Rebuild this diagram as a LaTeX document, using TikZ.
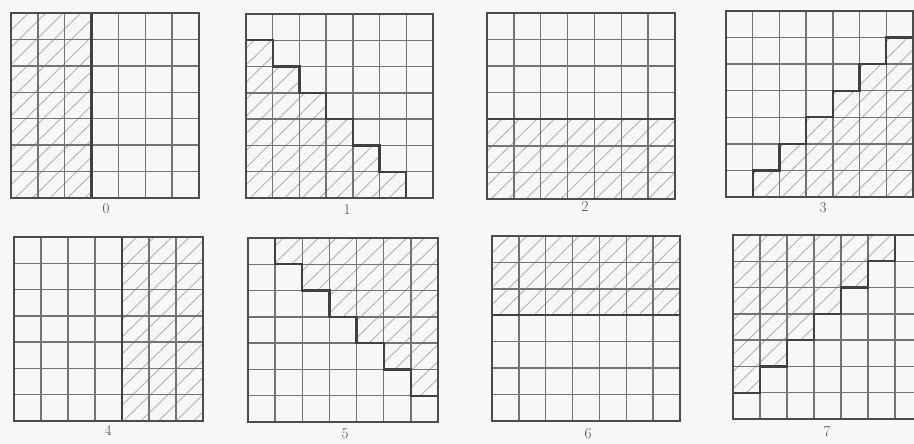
\documentclass[tikz,border=0pt]{standalone}
\begin{document}
\begin{tikzpicture}[x=1pt,y=-1pt,
  gridline/.style={line width=1.5pt, draw=black!55},
  border/.style={line width=2.2pt, draw=black!70},
  stairline/.style={line width=2.2pt, draw=black!75},
  hatchline/.style={line width=0.9pt, draw=black!30},
  lab/.style={font=\fontsize{15}{15}\selectfont, text=black!70, inner sep=0pt}]
\useasboundingbox[fill={rgb,255:red,247;green,247;blue,247}] (0,0) rectangle (914,444);
\newcommand\hatchfill{\foreach \a in {-7,-6.35,...,7.2} {\draw[hatchline] (\a,7) -- (\a+7,0);}}
\newcommand\cellgrid{\foreach \i in {1,...,6} {\draw[gridline] (\i,0) -- (\i,7); \draw[gridline] (0,\i) -- (7,\i);}}
% Panel 0
\begin{scope}[shift={(11,13)}, x=26.86pt, y=-26.43pt]
  \begin{scope}\clip (0,0) rectangle (3,7); \hatchfill \end{scope}
  \cellgrid
  \draw[stairline] (3,0) -- (3,7);
  \draw[border] (0,0) rectangle (7,7);
\end{scope}
\node[lab] (l0) at (106,209) {0};
% Panel 1
\begin{scope}[shift={(246,14)}, x=26.71pt, y=-26.29pt]
  \begin{scope}\clip (0,1) -| (1,2) -| (2,3) -| (3,4) -| (4,5) -| (5,6) -| (6,7) -- (0,7) -- cycle; \hatchfill \end{scope}
  \cellgrid
  \draw[stairline] (0,1) -| (1,2) -| (2,3) -| (3,4) -| (4,5) -| (5,6) -| (6,7);
  \draw[border] (0,0) rectangle (7,7);
\end{scope}
\node[lab] (l1) at (347,210) {1};
% Panel 2
\begin{scope}[shift={(487,13)}, x=26.86pt, y=-26.57pt]
  \begin{scope}\clip (0,4) rectangle (7,7); \hatchfill \end{scope}
  \cellgrid
  \draw[stairline] (0,4) -- (7,4);
  \draw[border] (0,0) rectangle (7,7);
\end{scope}
\node[lab] (l2) at (585,207) {2};
% Panel 3
\begin{scope}[shift={(726,11)}, x=26.71pt, y=-26.57pt]
  \begin{scope}\clip (7,1) -- (6,1) |- (5,2) |- (4,3) |- (3,4) |- (2,5) |- (1,6) |- (1,7) -- (7,7) -- cycle; \hatchfill \end{scope}
  \cellgrid
  \draw[stairline] (7,1) -- (6,1) |- (5,2) |- (4,3) |- (3,4) |- (2,5) |- (1,6) -- (1,7);
  \draw[border] (0,0) rectangle (7,7);
\end{scope}
\node[lab] (l3) at (823,208) {3};
% Panel 4
\begin{scope}[shift={(14,237)}, x=27pt, y=-26.29pt]
  \begin{scope}\clip (4,0) rectangle (7,7); \hatchfill \end{scope}
  \cellgrid
  \draw[stairline] (4,0) -- (4,7);
  \draw[border] (0,0) rectangle (7,7);
\end{scope}
\node[lab] (l4) at (108,430) {4};
% Panel 5
\begin{scope}[shift={(248,238)}, x=27.14pt, y=-26.29pt]
  \begin{scope}\clip (1,0) |- (2,1) |- (3,2) |- (4,3) |- (5,4) |- (6,5) |- (7,6) -- (7,0) -- cycle; \hatchfill \end{scope}
  \cellgrid
  \draw[stairline] (1,0) |- (2,1) |- (3,2) |- (4,3) |- (5,4) |- (6,5) |- (7,6);
  \draw[border] (0,0) rectangle (7,7);
\end{scope}
\node[lab] (l5) at (345,434) {5};
% Panel 6
\begin{scope}[shift={(492,236)}, x=26.86pt, y=-26.43pt]
  \begin{scope}\clip (0,0) rectangle (7,3); \hatchfill \end{scope}
  \cellgrid
  \draw[stairline] (0,3) -- (7,3);
  \draw[border] (0,0) rectangle (7,7);
\end{scope}
\node[lab] (l6) at (588,434) {6};
% Panel 7
\begin{scope}[shift={(733,235)}, x=27pt, y=-26.29pt]
  \begin{scope}\clip (0,0) -- (6,0) |- (5,1) |- (4,2) |- (3,3) |- (2,4) |- (1,5) |- (0,6) -- cycle; \hatchfill \end{scope}
  \cellgrid
  \draw[stairline] (6,0) |- (5,1) |- (4,2) |- (3,3) |- (2,4) |- (1,5) |- (0,6);
  \draw[border] (0,0) rectangle (7,7);
\end{scope}
\node[lab] (l7) at (827,432) {7};
\end{tikzpicture}
\end{document}
